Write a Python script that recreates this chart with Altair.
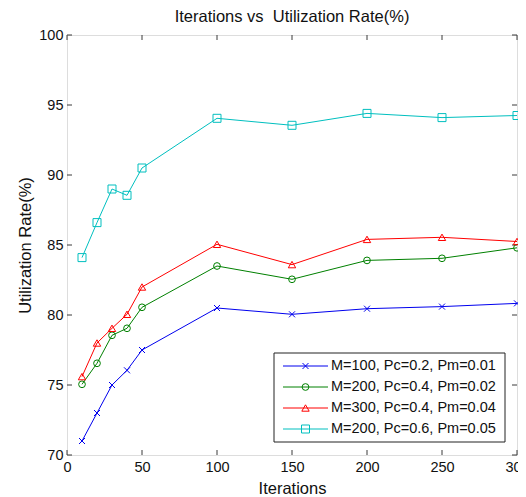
import altair as alt
import pandas as pd

FONT = "Liberation Sans"
AX = "#3a3a3a"
TXT = "#111111"

# ---- data ----
iterations = [10, 20, 30, 40, 50, 100, 150, 200, 250, 300]
labels = [
    "M=100, Pc=0.2, Pm=0.01",
    "M=200, Pc=0.4, Pm=0.02",
    "M=300, Pc=0.4, Pm=0.04",
    "M=200, Pc=0.6, Pm=0.05",
]
blue_vals = [71.0, 73.0, 75.0, 76.05, 77.5, 80.5, 80.05, 80.45, 80.6, 80.83]
green_vals = [75.05, 76.55, 78.55, 79.05, 80.55, 83.5, 82.55, 83.9, 84.05, 84.8]
red_vals = [75.6, 78.0, 79.05, 80.05, 82.0, 85.05, 83.6, 85.4, 85.55, 85.25]
cyan_vals = [84.1, 86.6, 89.0, 88.55, 90.5, 94.05, 93.55, 94.4, 94.1, 94.25]
series_values = [blue_vals, green_vals, red_vals, cyan_vals]

x_ticks = [0, 50, 100, 150, 200, 250, 300]
y_ticks = [70, 75, 80, 85, 90, 95, 100]

colors = ["#0000ee", "#008000", "#ff0000", "#00bfbf"]
shapes = ["M-1,-1L1,1M-1,1L1,-1", "circle", "triangle-up", "square"]
sizes = [36, 64, 95, 81]

rows = []
for lab, vals in zip(labels, series_values):
    for it, v in zip(iterations, vals):
        rows.append({"series": lab, "iter": it, "rate": v})
df = pd.DataFrame(rows)
leg_df = pd.DataFrame({"series": labels, "row": list(range(len(labels)))})
xt_df = pd.DataFrame({"v": x_ticks})
yt_df = pd.DataFrame({"v": y_ticks})

W, H = 450, 420
TICK = 5

xscale = alt.Scale(domain=[0, 300], nice=False, zero=False)
yscale = alt.Scale(domain=[70, 100], nice=False, zero=False)
color = alt.Color("series:N", scale=alt.Scale(domain=labels, range=colors), legend=None)
shape = alt.Shape("series:N", scale=alt.Scale(domain=labels, range=shapes), legend=None)
size = alt.Size("series:N", scale=alt.Scale(domain=labels, range=sizes), legend=None)

common = dict(labelFont=FONT, labelFontSize=14.5, labelColor=TXT, grid=False,
              titleFont=FONT, titleFontSize=16.5, titleFontWeight="normal", titleColor=TXT,
              ticks=False, domain=False)

ax_x = alt.Axis(orient="bottom", values=x_ticks, labelPadding=5, labelFlush=False,
                title="Iterations", titlePadding=7, **common)
ax_y = alt.Axis(orient="left", values=y_ticks, labelPadding=4,
                title="Utilization Rate(%)", titlePadding=5, **common)

lines = alt.Chart(df).mark_line(strokeWidth=1).encode(
    x=alt.X("iter:Q", scale=xscale, axis=ax_x),
    y=alt.Y("rate:Q", scale=yscale, axis=ax_y),
    color=color,
)
points = alt.Chart(df).mark_point(filled=False, strokeWidth=1, opacity=1).encode(
    x=alt.X("iter:Q", scale=xscale),
    y=alt.Y("rate:Q", scale=yscale),
    color=color, shape=shape, size=size,
)

# inward ticks on all four sides (MATLAB-style box)
tick_style = dict(color=AX, strokeWidth=1)
ty_left = alt.Chart(yt_df).mark_rule(**tick_style).encode(
    y=alt.Y("v:Q", scale=yscale), x=alt.value(0), x2=alt.value(TICK))
ty_right = alt.Chart(yt_df).mark_rule(**tick_style).encode(
    y=alt.Y("v:Q", scale=yscale), x=alt.value(W - TICK), x2=alt.value(W))
tx_bottom = alt.Chart(xt_df).mark_rule(**tick_style).encode(
    x=alt.X("v:Q", scale=xscale), y=alt.value(H - TICK), y2=alt.value(H))
tx_top = alt.Chart(xt_df).mark_rule(**tick_style).encode(
    x=alt.X("v:Q", scale=xscale), y=alt.value(0), y2=alt.value(TICK))

main = alt.layer(ty_left, ty_right, tx_bottom, tx_top, lines, points)

# ---- legend (box in the lower right of the plot) ----
leg_y = alt.Y("row:Q", scale=alt.Scale(domain=[0, 3], range=[331, 394]), axis=None)
box = alt.Chart(pd.DataFrame({"k": [0]})).mark_rect(fill="white", stroke="#222222", strokeWidth=1).encode(
    x=alt.value(207), x2=alt.value(438), y=alt.value(318), y2=alt.value(407)
)
leg_lines = alt.Chart(leg_df).mark_rule(strokeWidth=1).encode(
    x=alt.value(216), x2=alt.value(261), y=leg_y, color=color
)
leg_pts = alt.Chart(leg_df).mark_point(filled=False, strokeWidth=1, opacity=1).encode(
    x=alt.value(238.5), y=leg_y, color=color, shape=shape, size=size
)
leg_text = alt.Chart(leg_df).mark_text(align="left", baseline="middle", font=FONT,
                                       fontSize=14.5, color=TXT).encode(
    x=alt.value(264), y=leg_y, text="series:N"
)
legend = alt.layer(box, leg_lines, leg_pts, leg_text)

chart = alt.layer(main, legend).resolve_scale(y="independent").properties(
    width=W, height=H,
    title=alt.Title("Iterations vs\u00a0 Utilization Rate(%)", font=FONT, fontSize=16.5,
                    fontWeight="normal", color=TXT, anchor="middle", offset=2),
    padding={"left": 59, "top": 27, "right": 1, "bottom": 42},
    autosize=alt.AutoSizeParams(type="none"),
).configure_view(stroke=AX, strokeWidth=1).configure(background="white")

chart.save("out.html", embed_options={"renderer": "svg", "actions": False})
